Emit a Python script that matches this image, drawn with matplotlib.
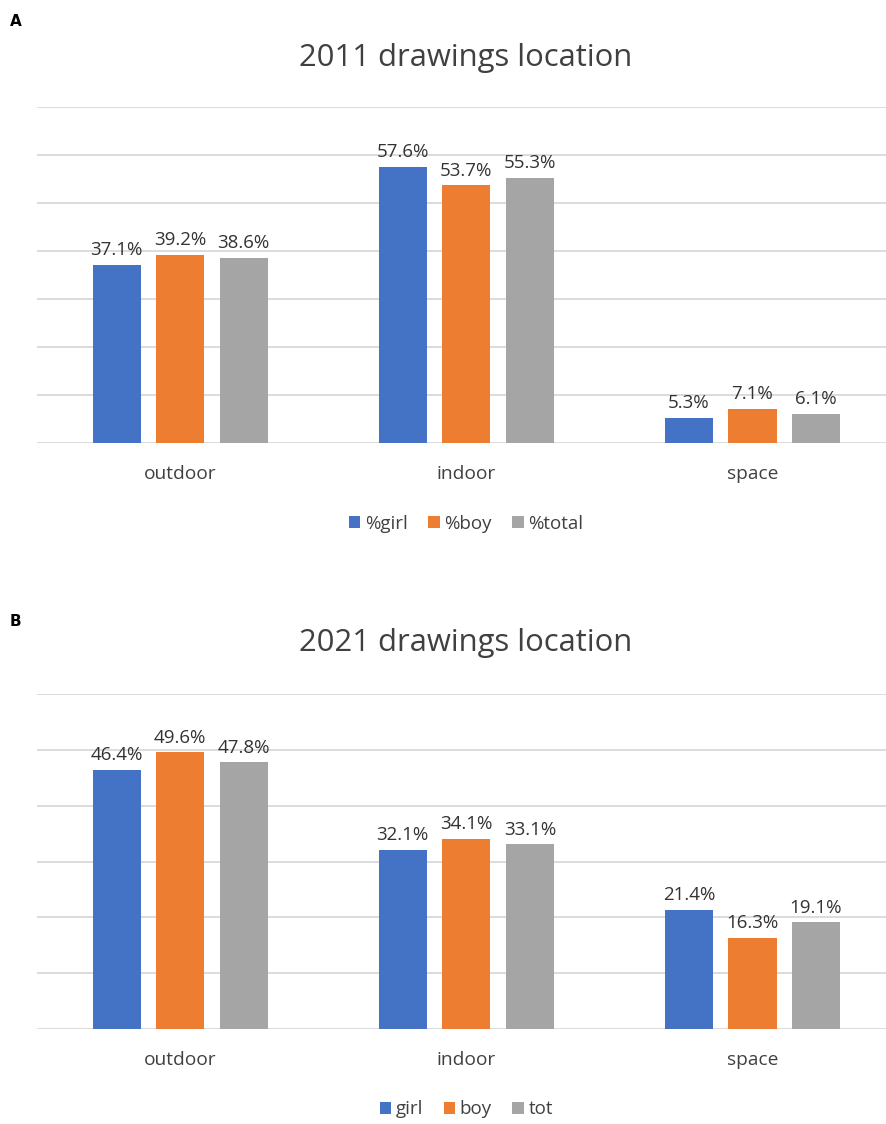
import numpy as np
import matplotlib.pyplot as plt

plt.rcParams['font.family'] = ['Open Sans', 'DejaVu Sans']

categories = ['outdoor', 'indoor', 'space']

# 2011 shares (%)
girl_2011 = [37.1, 57.6, 5.3]
boy_2011 = [39.2, 53.7, 7.1]
total_2011 = [38.6, 55.3, 6.1]
labels_2011 = ['%girl', '%boy', '%total']

# 2021 shares (%)
girl_2021 = [46.4, 32.1, 21.4]
boy_2021 = [49.6, 34.1, 16.3]
total_2021 = [47.8, 33.1, 19.1]
labels_2021 = ['girl', 'boy', 'tot']

colors = ['#4472C4', '#ED7D31', '#A5A5A5']
W, H = 887, 1124

fig = plt.figure(figsize=(W / 100, H / 100), dpi=100)


def panel(base_px, top_px, ymax, series, names, title, title_y, letter, letter_y):
    ax = fig.add_axes([37 / W, 1 - base_px / H, 850 / W, (base_px - top_px) / H])
    x = np.arange(len(categories))
    width = 0.168
    step = 0.222
    for i, (vals, name) in enumerate(zip(series, names)):
        bars = ax.bar(x + (i - 1) * step, vals, width, color=colors[i], label=name)
        ax.bar_label(bars, fmt='%.1f%%', padding=4, fontsize=13.5, color='#333333',
                     fontweight='medium')
    ax.set_xlim(-0.5, 2.47)
    ax.set_ylim(0, ymax)
    ax.set_yticks(np.arange(0, ymax + 1, 10))
    ax.yaxis.grid(True, color='#D9D9D9', linewidth=1.3)
    ax.set_axisbelow(True)
    ax.set_yticklabels([])
    ax.tick_params(axis='y', length=0)
    ax.set_xticks(x)
    ax.set_xticklabels(categories, fontsize=13.8, color='#404040')
    ax.tick_params(axis='x', length=0, pad=16)
    for s in ax.spines.values():
        s.set_visible(False)
    ax.legend(loc='center', bbox_to_anchor=(0.505, -0.24), ncol=3, frameon=False,
              fontsize=13.5, handlelength=0.6, handleheight=0.6, handletextpad=0.25,
              columnspacing=1.1, labelcolor='#404040')
    fig.text(466 / W, 1 - title_y / H, title, ha='center', va='center',
             fontsize=22.3, color='#404040')
    fig.text(10 / W, 1 - letter_y / H, letter, ha='left', va='center',
             fontsize=11, fontweight='bold', family='DejaVu Sans')


panel(443, 107, 70, [girl_2011, boy_2011, total_2011], labels_2011,
      '2011 drawings location', 58, 'A', 22)
panel(1029, 694, 60, [girl_2021, boy_2021, total_2021], labels_2021,
      '2021 drawings location', 643, 'B', 622)

fig.savefig('out.png', dpi=100)
